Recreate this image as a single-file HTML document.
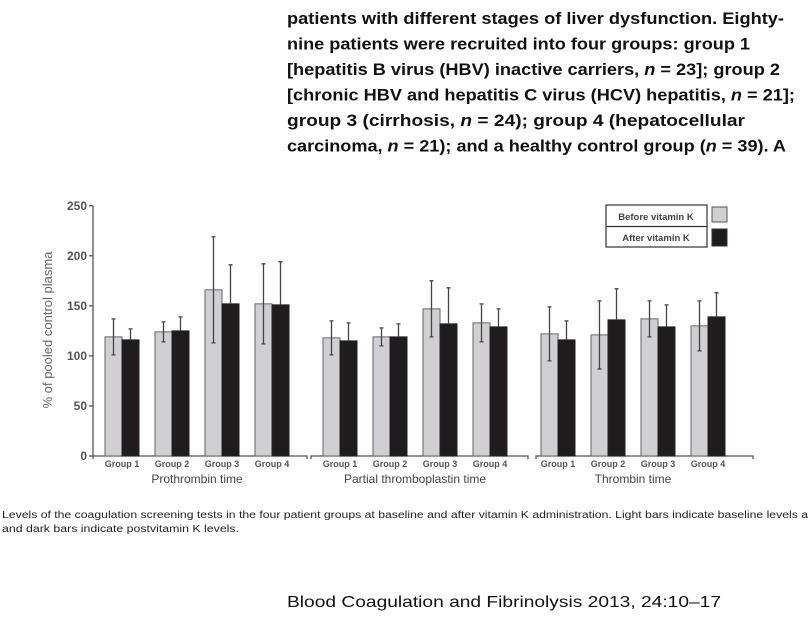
<!DOCTYPE html>
<html><head><meta charset="utf-8"><style>
body{margin:0;background:#fff;}
svg{display:block;font-family:"Liberation Sans",sans-serif;}
</style></head><body>
<svg id="c" width="808" height="619" viewBox="0 0 808 619">
<g font-weight="bold" font-size="17" fill="#111">
<text x="287" y="24" textLength="497" lengthAdjust="spacingAndGlyphs">patients with different stages of liver dysfunction. Eighty-</text>
<text x="287" y="49.5" textLength="463" lengthAdjust="spacingAndGlyphs">nine patients were recruited into four groups: group 1</text>
<text x="287" y="75" textLength="493" lengthAdjust="spacingAndGlyphs">[hepatitis B virus (HBV) inactive carriers, <tspan font-style="italic">n</tspan> = 23]; group 2</text>
<text x="287" y="100.5" textLength="508" lengthAdjust="spacingAndGlyphs">[chronic HBV and hepatitis C virus (HCV) hepatitis, <tspan font-style="italic">n</tspan> = 21];</text>
<text x="287" y="126" textLength="458" lengthAdjust="spacingAndGlyphs">group 3 (cirrhosis, <tspan font-style="italic">n</tspan> = 24); group 4 (hepatocellular</text>
<text x="287" y="151.5" textLength="499" lengthAdjust="spacingAndGlyphs">carcinoma, <tspan font-style="italic">n</tspan> = 21); and a healthy control group (<tspan font-style="italic">n</tspan> = 39). A</text>
</g>
<g id="chart"></g>
<g>
<rect x="606" y="205" width="101" height="42" fill="#fff" stroke="#333" stroke-width="1.2"/>
<line x1="606" y1="226.5" x2="707" y2="226.5" stroke="#333" stroke-width="1.2"/>
<text x="656" y="220" font-size="9.5" font-weight="bold" fill="#444" text-anchor="middle">Before vitamin K</text>
<text x="656" y="241" font-size="9.5" font-weight="bold" fill="#444" text-anchor="middle">After vitamin K</text>
<rect x="712" y="207" width="15" height="15" fill="#d0d0d2" stroke="#555"/>
<rect x="712" y="229" width="15" height="17" fill="#1e1c1d" stroke="#333"/>
</g>
<g font-size="10" fill="#222">
<text x="2" y="518" textLength="806" lengthAdjust="spacingAndGlyphs">Levels of the coagulation screening tests in the four patient groups at baseline and after vitamin K administration. Light bars indicate baseline levels a</text>
<text x="2" y="532" textLength="237" lengthAdjust="spacingAndGlyphs">and dark bars indicate postvitamin K levels.</text>
</g>
<text x="287" y="607" font-size="16" fill="#111" textLength="434" lengthAdjust="spacingAndGlyphs">Blood Coagulation and Fibrinolysis 2013, 24:10–17</text>
</svg>
<script>
const panels=["Prothrombin time","Partial thromboplastin time","Thrombin time"];
const groups=["Group 1","Group 2","Group 3","Group 4"];
const beforeVals=[119,124,166,152, 118,119,147,133, 122,121,137,130];
const beforeErrTop=[137,134,219,192, 135,128,175,152, 149,155,155,155];
const afterVals=[116,125,152,151, 115,119,132,129, 116,136,129,139];
const afterErrTop=[127,139,191,194, 133,132,168,147, 135,167,151,163];
const yTicks=[0,50,100,150,200,250];

const NS="http://www.w3.org/2000/svg";
const g=document.getElementById('chart');
const y0=456, pxPerUnit=1.001;
function yS(v){return y0-v*pxPerUnit;}
const panelStart=[105,323,541];
const groupStep=50, barW=17;
function xS(p,gi){return panelStart[p]+gi*groupStep;}
function mk(tag,attrs){const e=document.createElementNS(NS,tag);for(const k in attrs)e.setAttribute(k,attrs[k]);g.appendChild(e);return e;}

let ax=mk('line',{x1:93,y1:yS(250),x2:93,y2:y0,stroke:'#555','stroke-width':1.3});


yTicks.forEach(t=>{
  const tk=mk('line',{x1:89,y1:yS(t),x2:93,y2:yS(t),stroke:'#555','stroke-width':1.3});
  
  
  const tl=mk('text',{x:87,y:yS(t)+4,'font-size':12,'font-weight':'bold',fill:'#555','text-anchor':'end'});
  tl.textContent=t;
  
  
});
const yt=mk('text',{x:0,y:0,'font-size':13,fill:'#666','text-anchor':'middle',transform:'translate(52,330) rotate(-90)'});
yt.textContent='% of pooled control plasma';



const segs=[[93,307],[311,528],[536,753]];
segs.forEach((s,p)=>{
  const l=mk('path',{d:`M${s[0]} ${y0+3}V${y0}H${s[1]}V${y0+3}`,stroke:'#555','stroke-width':1.3,fill:'none'});
  
  
  const pt=mk('text',{x:(xS(p,0)+xS(p,3)+2*barW)/2,y:483,'font-size':12,fill:'#444','text-anchor':'middle'});
  pt.textContent=panels[p];
  
  
});

for(let p=0;p<3;p++){
  for(let gi=0;gi<4;gi++){
    const i=p*4+gi, x=xS(p,gi);
    const lb=mk('text',{x:x+barW,y:467,'font-size':9,'font-weight':'bold',fill:'#555','text-anchor':'middle'});
    lb.textContent=groups[gi];
    
    
    [[beforeVals,beforeErrTop,'#d0d0d2','#666',x,'bar-before',true],[afterVals,afterErrTop,'#1e1c1d','#222',x+barW,'bar-after',false]].forEach(sr=>{
      const v=sr[0][i], top=sr[1][i], bx=sr[4];
      const b=mk('rect',{x:bx,y:yS(v),width:barW,height:y0-yS(v),fill:sr[2],stroke:sr[3],'stroke-width':1});
      
      
      const cx=bx+barW/2, lo=sr[6]?2*v-top:v;
      let d=`M${cx} ${yS(top)}V${yS(lo)}M${cx-2} ${yS(top)}H${cx+2}`;
      if(sr[6]) d+=`M${cx-2} ${yS(lo)}H${cx+2}`;
      const e=mk('path',{d:d,stroke:'#444','stroke-width':1.3,fill:'none'});
      
      
    });
  }
}
</script>
</body></html>
